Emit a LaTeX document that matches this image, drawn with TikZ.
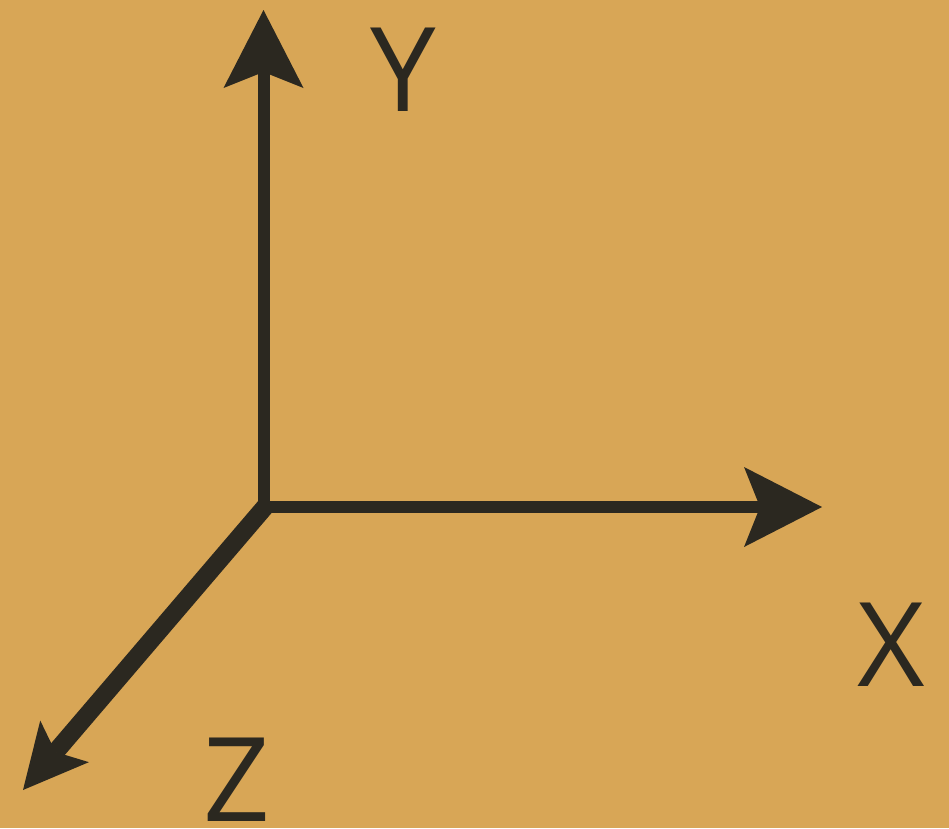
\documentclass[tikz,border=0pt]{standalone}
\usepackage{fontspec}
\setmainfont{Open Sans}
\usetikzlibrary{arrows.meta}
\definecolor{bg}{RGB}{216,166,86}
\definecolor{ink}{RGB}{43,40,32}
\tikzset{
  axis/.style={draw=ink, line width=12pt,
    -{Stealth[length=78pt 0 0, width=80pt 0 0, inset=16pt 0 0, line width=0pt 0 0, round]}},
  zaxis/.style={draw=ink, line width=18pt,
    -{Stealth[length=64pt 0 0, width=64pt 0 0, inset=14pt 0 0, line width=0pt 0 0, round]}},
  lab/.style={text=ink, inner sep=0pt, font=\fontsize{117}{117}\selectfont}
}
\begin{document}
\begin{tikzpicture}[x=1pt, y=-1pt]
\fill[bg] (0,0) rectangle (949,828);
\useasboundingbox (0,0) rectangle (949,828);
\coordinate (ybase) at (263.5,513);
\coordinate (xbase) at (258,507);
\coordinate (zbase) at (270,501);
\coordinate (ytip) at (263.5,10);
\coordinate (xtip) at (822,507);
\coordinate (ztip) at (23,790);
\draw[axis] (ybase) -- (ytip);
\draw[axis] (xbase) -- (xtip);
\draw[zaxis, line cap=butt] (zbase) -- (ztip);
\node[lab] (ly) at (403,70) {Y};
\node[lab] (lx) at (891,645) {X};
\node[lab] (lz) at (237,780) {Z};
\end{tikzpicture}
\end{document}
